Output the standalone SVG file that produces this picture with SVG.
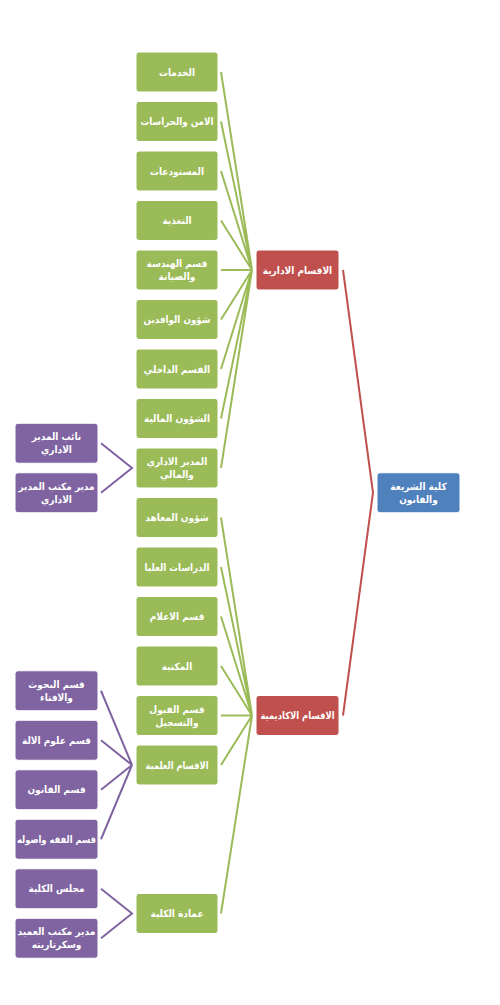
<svg xmlns="http://www.w3.org/2000/svg" width="500" height="1005" viewBox="0 0 500 1005">
<style>
.g{fill:#9BBB59;stroke:#fff;stroke-width:1}
.p{fill:#8064A2;stroke:#fff;stroke-width:1}
.r{fill:#C0504D;stroke:#fff;stroke-width:1}
.b{fill:#4F81BD;stroke:#fff;stroke-width:1}
text{font-family:"DejaVu Sans Condensed","DejaVu Sans",sans-serif;font-stretch:condensed;font-size:10px;font-weight:bold;fill:#fff;text-anchor:middle;dominant-baseline:central}
.lg{stroke:#9BBB59;stroke-width:2;fill:none}
.lp{stroke:#8064A2;stroke-width:2;fill:none}
.lr{stroke:#C0504D;stroke-width:2;fill:none}
</style>
<rect width="500" height="1005" fill="#fff"/>
<g id="connectors">
<path class="lg" d="M221 72L252 270M221 121.5L252 270M221 171L252 270M221 220.5L252 270M221 270L252 270M221 319.5L252 270M221 369L252 270M221 418.5L252 270M221 468L252 270"/>
<path class="lg" d="M221 517.5L252 715.5M221 567L252 715.5M221 616.5L252 715.5M221 666L252 715.5M221 715.5L252 715.5M221 765L252 715.5M221 913.5L252 715.5"/>
<path class="lr" d="M343 270L373 492.75L343 715.5"/>
<path class="lp" d="M101 443.25L132 468L101 492.75"/>
<path class="lp" d="M101 690.75L132 765L101 740.25M101 789.75L132 765L101 839.25"/>
<path class="lp" d="M101 888.75L132 913.5L101 938.25"/>
</g>
<g id="n1"><rect class="g" x="136" y="52" width="82" height="40" rx="3"/><text x="177" y="72">الخدمات</text></g>
<g id="n2"><rect class="g" x="136" y="101.5" width="82" height="40" rx="3"/><text x="177" y="121.5" textLength="73" lengthAdjust="spacingAndGlyphs">الامن والحراسات</text></g>
<g id="n3"><rect class="g" x="136" y="151" width="82" height="40" rx="3"/><text x="177" y="171">المستودعات</text></g>
<g id="n4"><rect class="g" x="136" y="200.5" width="82" height="40" rx="3"/><text x="177" y="220.5">التغذية</text></g>
<g id="n5"><rect class="g" x="136" y="250" width="82" height="40" rx="3"/><text x="177" y="263.5">قسم الهندسة</text><text x="177" y="276.5">والصيانة</text></g>
<g id="n6"><rect class="g" x="136" y="299.5" width="82" height="40" rx="3"/><text x="177" y="319.5" textLength="67" lengthAdjust="spacingAndGlyphs">شؤون الوافدين</text></g>
<g id="n7"><rect class="g" x="136" y="349" width="82" height="40" rx="3"/><text x="177" y="369">القسم الداخلي</text></g>
<g id="n8"><rect class="g" x="136" y="398.5" width="82" height="40" rx="3"/><text x="177" y="418.5">الشؤون المالية</text></g>
<g id="n9"><rect class="g" x="136" y="448" width="82" height="40" rx="3"/><text x="177" y="461.5">المدير الاداري</text><text x="177" y="474.5">والمالي</text></g>
<g id="n10"><rect class="g" x="136" y="497.5" width="82" height="40" rx="3"/><text x="177" y="517.5">شؤون المعاهد</text></g>
<g id="n11"><rect class="g" x="136" y="547" width="82" height="40" rx="3"/><text x="177" y="567" textLength="65" lengthAdjust="spacingAndGlyphs">الدراسات العليا</text></g>
<g id="n12"><rect class="g" x="136" y="596.5" width="82" height="40" rx="3"/><text x="177" y="616.5">قسم الاعلام</text></g>
<g id="n13"><rect class="g" x="136" y="646" width="82" height="40" rx="3"/><text x="177" y="666">المكتبة</text></g>
<g id="n14"><rect class="g" x="136" y="695.5" width="82" height="40" rx="3"/><text x="177" y="709">قسم القبول</text><text x="177" y="722">والتسجيل</text></g>
<g id="n15"><rect class="g" x="136" y="745" width="82" height="40" rx="3"/><text x="177" y="765" textLength="63" lengthAdjust="spacingAndGlyphs">الاقسام العلمية</text></g>
<g id="n16"><rect class="g" x="136" y="893.5" width="82" height="40" rx="3"/><text x="177" y="913.5">عمادة الكلية</text></g>
<g id="p1"><rect class="p" x="15" y="423.25" width="83" height="40" rx="3"/><text x="56.5" y="436.75">نائب المدير</text><text x="56.5" y="449.75">الاداري</text></g>
<g id="p2"><rect class="p" x="15" y="472.75" width="83" height="40" rx="3"/><text x="56.5" y="486.25" textLength="76" lengthAdjust="spacingAndGlyphs">مدير مكتب المدير</text><text x="56.5" y="499.25">الاداري</text></g>
<g id="p3"><rect class="p" x="15" y="670.75" width="83" height="40" rx="3"/><text x="56.5" y="684.25">قسم البحوث</text><text x="56.5" y="697.25">والافتاء</text></g>
<g id="p4"><rect class="p" x="15" y="720.25" width="83" height="40" rx="3"/><text x="56.5" y="740.25">قسم علوم الالة</text></g>
<g id="p5"><rect class="p" x="15" y="769.75" width="83" height="40" rx="3"/><text x="56.5" y="789.75">قسم  القانون</text></g>
<g id="p6"><rect class="p" x="15" y="819.25" width="83" height="40" rx="3"/><text x="56.5" y="839.25" textLength="79" lengthAdjust="spacingAndGlyphs">قسم الفقه واصوله</text></g>
<g id="p7"><rect class="p" x="15" y="868.75" width="83" height="40" rx="3"/><text x="56.5" y="888.75">مجلس الكلية</text></g>
<g id="p8"><rect class="p" x="15" y="918.25" width="83" height="40" rx="3"/><text x="56.5" y="931.75" textLength="78" lengthAdjust="spacingAndGlyphs">مدير مكتب  العميد</text><text x="56.5" y="944.75">وسكرتاريته</text></g>
<g id="r1"><rect class="r" x="256" y="250" width="83" height="40" rx="3"/><text x="297.5" y="270">الاقسام الادارية</text></g>
<g id="r2"><rect class="r" x="256" y="695.5" width="83" height="40" rx="3"/><text x="297.5" y="715.5" textLength="74" lengthAdjust="spacingAndGlyphs">الاقسام الاكاديمية</text></g>
<g id="root"><rect class="b" x="377" y="472.75" width="83" height="40" rx="3"/><text x="418.5" y="486.25">كلية الشريعة</text><text x="418.5" y="499.25">والقانون</text></g>
</svg>
